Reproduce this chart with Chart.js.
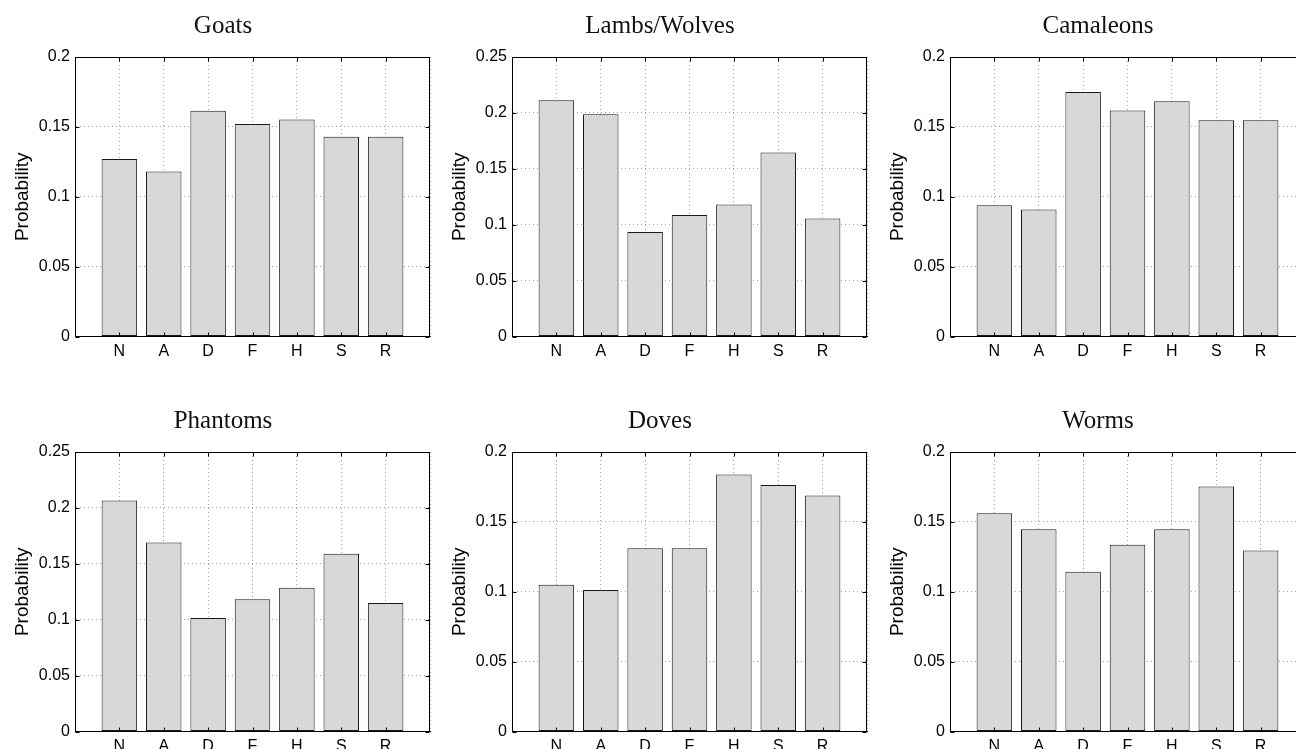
<!DOCTYPE html>
<html>
<head>
<meta charset="utf-8">
<script src="https://cdn.jsdelivr.net/npm/chart.js@4.4.1/dist/chart.umd.min.js"></script>
<style>
  html, body { margin: 0; padding: 0; background: #fff; }
  body { position: relative; width: 1296px; height: 749px; overflow: hidden; }
  canvas { position: absolute; }
</style>
</head>
<body>
<canvas id="c0" width="446" height="375" style="left:0px;top:0px"></canvas>
<canvas id="c1" width="446" height="375" style="left:437px;top:0px"></canvas>
<canvas id="c2" width="446" height="375" style="left:875px;top:0px"></canvas>
<canvas id="c3" width="446" height="375" style="left:0px;top:395px"></canvas>
<canvas id="c4" width="446" height="375" style="left:437px;top:395px"></canvas>
<canvas id="c5" width="446" height="375" style="left:875px;top:395px"></canvas>
<script>
// categorias e valores
const categories = ['N', 'A', 'D', 'F', 'H', 'S', 'R'];
const goats = [0.127, 0.118, 0.1615, 0.152, 0.1553, 0.1429, 0.1429];
const lambsWolves = [0.2113, 0.1988, 0.0935, 0.1087, 0.1181, 0.1646, 0.1056];
const camaleons = [0.094, 0.0908, 0.175, 0.1617, 0.1684, 0.1548, 0.1548];
const phantoms = [0.2066, 0.1691, 0.1015, 0.1182, 0.1286, 0.1589, 0.1149];
const doves = [0.105, 0.1012, 0.1312, 0.1312, 0.1839, 0.1764, 0.1689];
const worms = [0.1562, 0.1448, 0.1143, 0.1336, 0.1448, 0.1753, 0.1296];
const titles = ['Goats', 'Lambs/Wolves', 'Camaleons', 'Phantoms', 'Doves', 'Worms'];
const series = [goats, lambsWolves, camaleons, phantoms, doves, worms];
const yMax = [0.2, 0.25, 0.2, 0.25, 0.2, 0.2];
const yStep = 0.05;

Chart.defaults.font.family = 'Liberation Sans';
Chart.defaults.color = '#000';

// moldura da área do gráfico com marcas de escala para dentro (estilo MATLAB)
const boxPlugin = {
  id: 'boxAxes',
  afterDraw(chart) {
    const ctx = chart.ctx;
    const a = chart.chartArea;
    const L = Math.round(a.left) + 0.5, R = Math.round(a.right) - 0.5;
    const T = Math.round(a.top) + 0.5, B = Math.round(a.bottom) - 0.5;
    const tl = 4;
    ctx.save();
    ctx.strokeStyle = '#000';
    ctx.lineWidth = 1;
    ctx.beginPath();
    const xs = chart.scales.x;
    xs.ticks.forEach((t, i) => {
      if (!t.label) return;
      const px = Math.round(xs.getPixelForTick(i)) + 0.5;
      ctx.moveTo(px, B); ctx.lineTo(px, B - tl);
      ctx.moveTo(px, T); ctx.lineTo(px, T + tl);
    });
    const ys = chart.scales.y;
    ys.ticks.forEach(t => {
      const py = Math.round(ys.getPixelForValue(t.value)) + 0.5;
      ctx.moveTo(L, py); ctx.lineTo(L + tl, py);
      ctx.moveTo(R, py); ctx.lineTo(R - tl, py);
    });
    ctx.stroke();
    ctx.strokeRect(L, T, R - L, B - T);
    ctx.restore();
  }
};

function makeChart(idx) {
  const ctx = document.getElementById('c' + idx).getContext('2d');
  new Chart(ctx, {
    type: 'bar',
    data: {
      labels: [''].concat(categories, ['']),
      datasets: [{
        data: [null].concat(series[idx], [null]),
        backgroundColor: '#d8d8d8',
        borderColor: '#1a1a1a',
        borderWidth: 1,
        borderSkipped: false,
        barPercentage: 0.8,
        categoryPercentage: 1
      }]
    },
    options: {
      responsive: false,
      animation: false,
      events: [],
      layout: { padding: { left: 16, right: 16, top: 0, bottom: 0 } },
      plugins: {
        legend: { display: false },
        tooltip: { enabled: false },
        title: {
          display: true,
          text: titles[idx],
          font: { family: 'Liberation Serif', size: 25, weight: 'normal', lineHeight: 1.2 },
          color: '#111',
          padding: { top: 11, bottom: 16 }
        }
      },
      scales: {
        x: {
          offset: false,
          grid: { color: '#a0a0a0', lineWidth: 1, drawTicks: false, offset: false },
          border: { color: '#000', width: 1, dash: [1, 3] },
          ticks: { autoSkip: false, maxRotation: 0, padding: 5, font: { size: 16 } },
          afterFit(scale) { scale.height = 38.5; }
        },
        y: {
          min: 0,
          max: yMax[idx],
          grid: { color: '#a0a0a0', lineWidth: 1, drawTicks: false },
          border: { color: '#000', width: 1, dash: [1, 3] },
          ticks: {
            stepSize: yStep,
            padding: 5,
            font: { size: 16 },
            callback: v => String(Number(v.toFixed(2)))
          },
          title: {
            display: true,
            text: 'Probability',
            font: { size: 19, lineHeight: 1.2 },
            padding: { top: -5, bottom: 0 }
          },
          afterFit(scale) { scale.width = 59; }
        }
      }
    },
    plugins: [boxPlugin]
  });
}

for (let i = 0; i < titles.length; i++) makeChart(i);
</script>
</body>
</html>
